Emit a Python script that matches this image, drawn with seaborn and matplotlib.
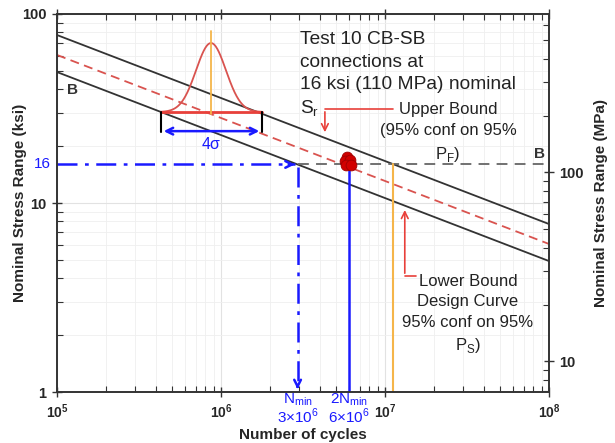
import numpy as np
import pandas as pd
import matplotlib
matplotlib.use("Agg")
import matplotlib.pyplot as plt
from matplotlib.ticker import NullFormatter
import seaborn as sns

# ---- data ----
n_ends = [1e5, 1e8]
upper_ksi = [77.4, 7.74]      # upper bound (95% conf on 95% PF)
mean_ksi = [60.7, 6.07]       # mean curve (dashed red)
lower_ksi = [49.3, 4.93]      # lower bound / Category B design curve

test_n = [5.87e6, 5.7e6, 6.12e6, 5.75e6, 6.2e6]
test_ksi = [17.6, 16.7, 16.9, 15.8, 15.8]

sr_ksi = 16
n_min = 2.93e6
n_2min = 6.0e6
n_upper = 1.12e7

# schematic bell curve (log10 N centre/spread, stress at base and peak)
bell_mu = 5.939
bell_sd = 0.091
bell_lo = 4.3e5
bell_hi = 1.78e6
bell_base = 30.3
bell_peak = 70.2

ksi_to_mpa = 6.895

blue = "#1a1aff"
red = "#e8403a"
dark = "#333333"
orange = "#f5b54a"

sns.set_theme(style="ticks")
plt.rcParams["font.family"] = ["Liberation Sans", "DejaVu Sans"]
plt.rcParams["mathtext.fontset"] = "custom"
plt.rcParams["mathtext.rm"] = "Liberation Sans"
plt.rcParams["mathtext.bf"] = "Liberation Sans:bold"


def seg(ax, xs, ys, **kw):
    # plain line through the given points, no aggregation / sorting
    sns.lineplot(x=xs, y=ys, ax=ax, estimator=None, sort=False, **kw)


fig = plt.figure(figsize=(6.15, 4.43), dpi=100)
ax = fig.add_axes([0.0927, 0.1151, 0.8, 0.8533])
ax.set_xscale("log")
ax.set_yscale("log")
ax.set_xlim(1e5, 1e8)
ax.set_ylim(1, 100)
ax.set_axisbelow(True)
ax.grid(True, which="major", color="#e2e2e2", lw=0.8)
ax.grid(True, which="minor", color="#efefef", lw=0.6)

# S-N curves
seg(ax, n_ends, upper_ksi, color=dark, lw=1.3)
seg(ax, n_ends, lower_ksi, color=dark, lw=1.3)
seg(ax, n_ends, mean_ksi, color="#d9534f", lw=1.3, linestyle=(0, (5, 3)))

# CAFL dashed grey line
seg(ax, [n_min, 1e8], [sr_ksi, sr_ksi], color="#666666", lw=1.3, linestyle=(0, (6, 4)))

# blue N_min construction
seg(ax, [1e5, n_min * 0.97], [sr_ksi, sr_ksi], color=blue, lw=1.8,
    linestyle=(0, (8, 3, 1.5, 3)))
seg(ax, [n_min, n_min], [sr_ksi * 0.97, 1.05], color=blue, lw=1.8,
    linestyle=(0, (8, 3, 1.5, 3)))
ax.annotate("", xy=(n_min, sr_ksi), xytext=(n_min * 0.85, sr_ksi),
            arrowprops=dict(arrowstyle="->", color=blue, lw=1.8))
ax.annotate("", xy=(n_min, 1.0), xytext=(n_min, 1.12),
            arrowprops=dict(arrowstyle="->", color=blue, lw=1.8))
seg(ax, [n_2min, n_2min], [sr_ksi, 1], color=blue, lw=1.8)

# orange line at upper bound intersection
seg(ax, [n_upper, n_upper], [sr_ksi, 1], color=orange, lw=1.5)

# test results
sns.scatterplot(x=test_n, y=test_ksi, ax=ax, color="#d10000", edgecolor="#a00000",
                s=60, zorder=5, legend=False)

# bell curve
logn = np.linspace(np.log10(bell_lo), np.log10(bell_hi), 200)
h = np.log10(bell_peak) - np.log10(bell_base)
bell_y = 10 ** (np.log10(bell_base) + h * np.exp(-0.5 * ((logn - bell_mu) / bell_sd) ** 2))
bell = pd.DataFrame({"n": 10 ** logn, "s": bell_y})
sns.lineplot(data=bell, x="n", y="s", ax=ax, color="#d9534f", lw=1.3, estimator=None, sort=False)
seg(ax, [bell_lo, bell_hi], [bell_base, bell_base], color=red, lw=2)
seg(ax, [10 ** bell_mu, 10 ** bell_mu], [29.6, 81.3], color=orange, lw=1.3)
seg(ax, [bell_lo, bell_lo], [bell_base, 23.7], color="black", lw=1.5)
seg(ax, [bell_hi, bell_hi], [bell_base, 23.7], color="black", lw=1.5)
ax.annotate("", xy=(bell_lo, 24.0), xytext=(bell_hi, 24.0),
            arrowprops=dict(arrowstyle="<->", color=blue, lw=1.8))
ax.text(10 ** bell_mu, 20.3, "4σ", color=blue, fontsize=11.5, ha="center", va="center")

# labels in the plot
ax.text(1.15e5, 39.6, "B", fontsize=11, fontweight="bold", ha="left", va="center", color=dark)
ax.text(8.7e7, 18.2, "B", fontsize=11, fontweight="bold", ha="center", va="center", color=dark)
ax.text(3.03e6, 55.7, "Test 10 CB-SB\nconnections at\n16 ksi (110 MPa) nominal",
        fontsize=13.8, ha="left", va="center", linespacing=1.45, color="#222222")
ax.text(3.03e6, 31.5, "S$_\\mathregular{r}$",
        fontsize=13.8, ha="left", va="center", color="#222222")
ax.text(2.42e7, 23.4, "Upper Bound\n(95% conf on 95%\nP$_\\mathregular{F}$)",
        fontsize=12, ha="center", va="center", linespacing=1.5, color="#222222")
ax.text(3.2e7, 2.57, "Lower Bound\nDesign Curve\n95% conf on 95%\nP$_\\mathregular{S}$)",
        fontsize=12, ha="center", va="center", linespacing=1.45, color="#222222")

# red callouts
seg(ax, [1.12e7, 4.3e6], [31.4, 31.4], color=red, lw=1.2)
ax.annotate("", xy=(4.3e6, 22.9), xytext=(4.3e6, 31.4),
            arrowprops=dict(arrowstyle="->", color=red, lw=1.2))
seg(ax, [1.55e7, 1.32e7], [4.11, 4.11], color=red, lw=1.2)
ax.annotate("", xy=(1.32e7, 9.5), xytext=(1.32e7, 4.11),
            arrowprops=dict(arrowstyle="->", color=red, lw=1.2))

# axes formatting
ax.set_xticks([1e5, 1e6, 1e7, 1e8])
ax.set_xticklabels([r"$\mathbf{10^{5}}$", r"$\mathbf{10^{6}}$", r"$\mathbf{10^{7}}$", r"$\mathbf{10^{8}}$"],
                   fontsize=10)
ax.xaxis.set_minor_formatter(NullFormatter())
ax.set_yticks([1, 10, 100])
ax.set_yticklabels(["1", "10", "100"], fontsize=10.5, fontweight="bold")
ax.yaxis.set_minor_formatter(NullFormatter())
ax.tick_params(which="major", direction="inout", length=7, width=1, color=dark, top=True)
ax.tick_params(axis="x", which="major", pad=4)
ax.tick_params(axis="y", which="major", pad=4)
ax.tick_params(which="minor", direction="in", length=4, width=0.8, color=dark, top=True)
ax.tick_params(axis="y", which="both", right=False)
for sp in ax.spines.values():
    sp.set_color(dark)
    sp.set_linewidth(1.2)

ax.text(-0.012, sr_ksi, "16", transform=ax.get_yaxis_transform(), color=blue,
        fontsize=11, ha="right", va="center")
for xv, lab in [(n_min, "N$_\\mathregular{min}$\n3×10$^\\mathregular{6}$"),
                (n_2min, "2N$_\\mathregular{min}$\n6×10$^\\mathregular{6}$")]:
    ax.text(xv, 0.002, lab, transform=ax.get_xaxis_transform(), color=blue,
            fontsize=11, ha="center", va="top", linespacing=0.95)

ax.set_xlabel("Number of cycles", fontsize=11, fontweight="bold")
ax.xaxis.set_label_coords(0.5, -0.095)
ax.set_ylabel("Nominal Stress Range (ksi)", fontsize=11, fontweight="bold")
ax.yaxis.set_label_coords(-0.06, 0.5)

ax2 = ax.twinx()
ax2.set_yscale("log")
ax2.set_ylim(1 * ksi_to_mpa, 100 * ksi_to_mpa)
ax2.set_yticks([10, 100])
ax2.set_yticklabels(["10", "100"], fontsize=10.5, fontweight="bold")
ax2.yaxis.set_minor_formatter(NullFormatter())
ax2.tick_params(which="major", direction="inout", length=7, width=1, color=dark)
ax2.tick_params(which="minor", direction="in", length=4, width=0.8, color=dark)
ax2.set_ylabel("Nominal Stress Range (MPa)", fontsize=11, fontweight="bold")
ax2.yaxis.set_label_coords(1.092, 0.5)
for sp in ax2.spines.values():
    sp.set_color(dark)
    sp.set_linewidth(1.2)

fig.savefig("out.png", dpi=100)
